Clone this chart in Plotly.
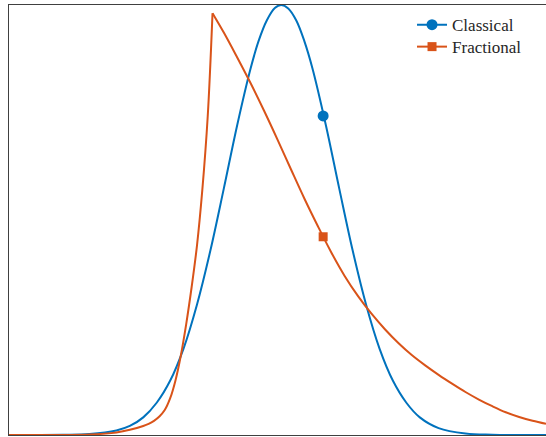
import plotly.graph_objects as go

# Classical (Gaussian-like) curve
t_classical = [0, 1, 1.5, 2, 2.25, 2.5, 2.75, 3, 3.25, 3.5, 3.75, 4, 4.25, 4.5,
               4.65, 4.8, 4.95, 5.07, 5.2, 5.35, 5.5, 5.65, 5.9, 6.15, 6.4,
               6.65, 6.9, 7.15, 7.4, 7.65, 8, 8.5, 9, 10]
y_classical = [0, 0.0003, 0.0021, 0.0105, 0.021, 0.041, 0.075, 0.126, 0.201,
               0.303, 0.429, 0.573, 0.721, 0.853, 0.917, 0.964, 0.993, 1.0,
               0.992, 0.964, 0.916, 0.853, 0.721, 0.573, 0.429, 0.303, 0.201,
               0.126, 0.075, 0.041, 0.0161, 0.0035, 0.0006, 0]

# Fractional curve, rising part (ends at the sharp peak)
t_frac_rise = [0, 1, 1.5, 2, 2.25, 2.5, 2.6, 2.7, 2.8, 2.9, 3.0, 3.1, 3.2,
               3.3, 3.4, 3.5, 3.6, 3.7, 3.79]
y_frac_rise = [0, 0.0002, 0.001, 0.006, 0.012, 0.021, 0.026, 0.033, 0.043,
               0.058, 0.085, 0.127, 0.185, 0.258, 0.343, 0.44, 0.57, 0.74,
               0.981]
# Fractional curve, decaying part (starts at the sharp peak)
t_frac_decay = [3.79, 4.0, 4.25, 4.5, 4.75, 5.0, 5.25, 5.5, 5.75, 6.0, 6.25,
                6.5, 6.75, 7.0, 7.25, 7.5, 7.75, 8.0, 8.25, 8.5, 8.75, 9.0,
                9.25, 9.5, 9.75, 10.0]
y_frac_decay = [0.981, 0.936, 0.878, 0.818, 0.754, 0.687, 0.618, 0.550, 0.486,
                0.425, 0.370, 0.323, 0.282, 0.246, 0.214, 0.186, 0.162, 0.140,
                0.1195, 0.100, 0.0825, 0.067, 0.053, 0.042, 0.033, 0.026]

# single marker position on each curve
marker_t = [5.85]
marker_classical = [0.742]
marker_fractional = [0.461]

series_names = ["Classical", "Fractional"]
BLUE = "#0072BD"
ORANGE = "#D95319"

fig = go.Figure()
fig.add_trace(go.Scatter(x=t_classical, y=y_classical, mode="lines",
                         line=dict(color=BLUE, width=2, shape="spline", smoothing=1.0),
                         showlegend=False, hoverinfo="skip"))
fig.add_trace(go.Scatter(x=t_frac_rise, y=y_frac_rise, mode="lines",
                         line=dict(color=ORANGE, width=2, shape="spline", smoothing=1.0),
                         showlegend=False, hoverinfo="skip"))
fig.add_trace(go.Scatter(x=t_frac_decay, y=y_frac_decay, mode="lines",
                         line=dict(color=ORANGE, width=2, shape="spline", smoothing=1.0),
                         showlegend=False, hoverinfo="skip"))
fig.add_trace(go.Scatter(x=marker_t, y=marker_classical, mode="lines+markers",
                         name=series_names[0], legend="legend",
                         line=dict(color=BLUE, width=2),
                         marker=dict(symbol="circle", size=11, color=BLUE)))
fig.add_trace(go.Scatter(x=marker_t, y=marker_fractional, mode="lines+markers",
                         name=series_names[1], legend="legend2",
                         line=dict(color=ORANGE, width=2),
                         marker=dict(symbol="square", size=9, color=ORANGE)))

axis_style = dict(showgrid=False, zeroline=False, showticklabels=False,
                  ticks="", showline=True, mirror=True, linecolor="#404040",
                  linewidth=1)
fig.update_xaxes(range=[0, 10], **axis_style)
fig.update_yaxes(range=[0, 1.0], **axis_style)

legend_font = dict(family="Liberation Serif", size=17, color="#262626")
fig.update_layout(
    width=546, height=437,
    margin=dict(l=9, r=0, t=5, b=2),
    paper_bgcolor="white", plot_bgcolor="white",
    legend=dict(x=0.7505, y=0.995, xanchor="left", yanchor="top",
                bgcolor="rgba(255,255,255,0)", font=legend_font),
    legend2=dict(x=0.7505, y=0.944, xanchor="left", yanchor="top",
                 bgcolor="rgba(255,255,255,0)", font=legend_font),
)

fig.write_html("out.html", config={"displayModeBar": False},
               post_script="document.body.style.margin='0';document.body.style.padding='0';")
